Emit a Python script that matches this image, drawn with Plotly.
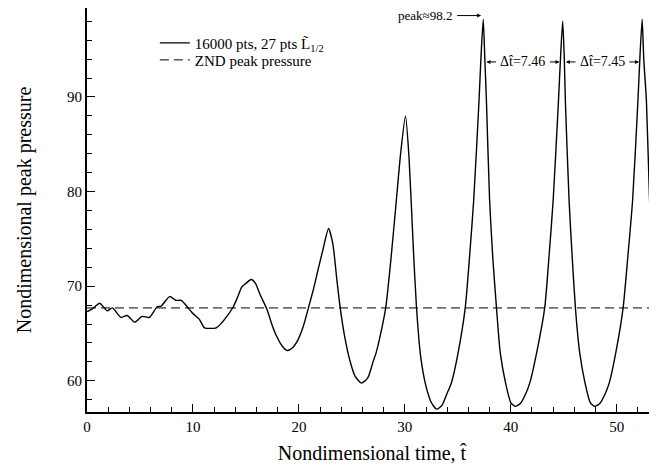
import plotly.graph_objects as go

# nondimensional time and peak pressure
t = [0.0, 0.5, 1.2, 1.9, 2.4, 3.2, 3.8, 4.5, 5.2, 5.9, 6.6, 7.0, 7.8, 8.4, 8.9, 9.4,
     10.0, 10.6, 11.1, 12.2, 12.7, 13.2, 13.8, 14.2, 14.6, 15.0, 15.5, 15.9, 16.3,
     17.0, 17.5, 17.9, 18.4, 18.9, 19.4, 19.9, 20.4, 20.9, 21.4, 21.8, 22.3, 22.8,
     23.2, 23.6, 23.9, 24.3, 24.8, 25.3, 25.9, 26.5, 27.0, 27.3, 27.8, 28.2, 28.7,
     29.2, 29.6, 30.06, 30.4, 30.8, 31.1, 31.5, 32.0, 32.5, 33.0, 33.5, 34.0, 34.4,
     35.0, 35.7, 36.1, 36.5, 37.0, 37.2, 37.4, 37.55, 37.7, 38.0, 38.3, 38.65, 39.0,
     39.5, 40.0, 40.4, 40.9, 41.4, 41.8, 42.5, 43.2, 43.6, 44.0, 44.5, 44.7, 44.9,
     45.05, 45.15, 45.5, 45.8, 46.1, 46.5, 47.0, 47.5, 47.9, 48.4, 48.9, 49.3, 50.0,
     50.6, 51.0, 51.5, 52.0, 52.2, 52.4, 52.55, 52.8, 53.1, 53.35, 53.6, 53.8]
p = [67.3, 67.6, 68.2, 67.4, 67.7, 66.7, 66.9, 66.2, 66.8, 66.7, 67.8, 67.9, 68.9, 68.5,
     68.5, 67.9, 67.1, 66.5, 65.6, 65.6, 66.1, 66.8, 67.8, 68.8, 69.9, 70.3, 70.7, 70.3,
     69.2, 67.5, 65.8, 64.7, 63.7, 63.2, 63.5, 64.3, 65.7, 67.7, 69.8, 71.7, 74.0, 76.1,
     74.5, 70.5, 67.7, 64.8, 62.2, 60.5, 59.75, 60.3, 62.0, 63.0, 65.4, 67.75, 73.0,
     79.1, 84.0, 88.0, 83.5, 74.0, 67.75, 62.5, 59.4, 57.7, 57.0, 57.4, 58.7, 59.8,
     62.8, 67.7, 73.0, 79.1, 89.6, 94.5, 98.2, 94.0, 89.6, 79.1, 73.0, 67.7, 63.0,
     59.8, 57.7, 57.3, 57.6, 58.6, 59.8, 63.3, 67.7, 73.0, 79.1, 89.6, 94.3, 98.0,
     94.0, 89.6, 79.1, 73.0, 67.7, 63.0, 59.8, 57.7, 57.3, 57.6, 58.6, 59.8, 63.5,
     67.7, 72.5, 79.1, 89.6, 94.5, 98.2, 94.0, 89.6, 79.1, 73.0, 67.7, 65.0]

znd_t = [0.0, 53.8]
znd_p = [67.7, 67.7]

peak_t = [37.4, 44.9, 52.4]
peak_label = "peak≈98.2"
dt_labels = ["Δt̂=7.46", "Δt̂=7.45"]

serif = "Liberation Serif"

fig = go.Figure()
fig.add_trace(go.Scatter(x=t, y=p, mode='lines',
                         line=dict(color='black', width=1.4, shape='spline', smoothing=0.6),
                         name='16000 pts, 27 pts L̃<sub>1/2</sub>', legend='legend'))
fig.add_trace(go.Scatter(x=znd_t, y=znd_p, mode='lines',
                         line=dict(color='black', width=1, dash='9px,5px'),
                         name='ZND peak pressure', legend='legend2'))

# peak label with arrow
fig.add_annotation(x=peak_t[0] - 0.2, y=98.6, ax=peak_t[0] - 2.6, ay=98.6,
                   axref='x', ayref='y', text='', showarrow=True,
                   arrowhead=2, arrowsize=0.8, arrowwidth=1, arrowcolor='black')
fig.add_annotation(x=peak_t[0] - 2.8, y=98.6, text=peak_label, showarrow=False,
                   xanchor='right', font=dict(family=serif, size=13, color='black'))

# period arrows between peaks
yd = 93.7
for i, lab in enumerate(dt_labels):
    a, b = peak_t[i], peak_t[i + 1]
    mid = (a + b) / 2
    fig.add_annotation(x=mid, y=yd, text=lab, showarrow=False,
                       font=dict(family=serif, size=14, color='black'))
    fig.add_annotation(x=a + 0.3, y=yd, ax=mid - 2.4, ay=yd, axref='x', ayref='y',
                       text='', showarrow=True, arrowhead=2, arrowsize=0.8,
                       arrowwidth=1, arrowcolor='black')
    fig.add_annotation(x=b - 0.3, y=yd, ax=mid + 2.4, ay=yd, axref='x', ayref='y',
                       text='', showarrow=True, arrowhead=2, arrowsize=0.8,
                       arrowwidth=1, arrowcolor='black')

leg = dict(x=0.119, xanchor='left', yanchor='middle', bgcolor='rgba(0,0,0,0)',
           font=dict(family=serif, size=15))
fig.update_layout(
    width=649, height=460,
    margin=dict(l=79, r=0, t=0, b=56),
    plot_bgcolor='white', paper_bgcolor='white',
    font=dict(family=serif, color='black', size=15),
    showlegend=True,
    legend=dict(leg, y=0.913),
    legend2=dict(leg, y=0.871),
)
fig.update_xaxes(
    range=[0, 53.8], showgrid=False, zeroline=False, automargin=False,
    showline=True, linecolor='black', linewidth=2,
    ticks='inside', ticklen=8, tickwidth=1, tickcolor='black',
    tick0=0, dtick=10,
    minor=dict(dtick=2, ticks='inside', ticklen=5, tickcolor='black'),
    title=dict(text='Nondimensional time, t̂', font=dict(family=serif, size=20), standoff=12),
)
fig.update_yaxes(
    range=[56.7, 99.4], showgrid=False, zeroline=False, automargin=False,
    showline=True, linecolor='black', linewidth=2,
    ticks='inside', ticklen=8, tickwidth=1, tickcolor='black',
    tick0=60, dtick=10,
    minor=dict(dtick=2, ticks='inside', ticklen=5, tickcolor='black'),
    title=dict(text='Nondimensional peak pressure', font=dict(family=serif, size=20), standoff=30),
)

fig.write_html("out.html")
